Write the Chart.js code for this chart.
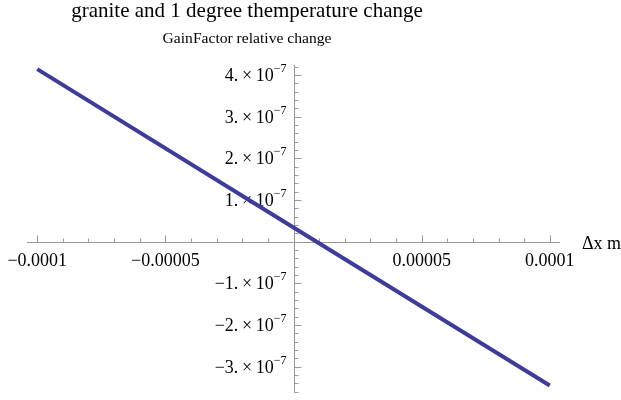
<!doctype html>
<html lang="en">
    <head>
        <meta charset="UTF-8" />
        <title>granite and 1 degree themperature change</title>
        <style>
            html, body { margin: 0; padding: 0; background: #fff; }
            .chartBox { width: 621px; height: 400px; }
        </style>
    </head>
    <body>
        <div class="chartBox">
            <canvas id="myChart" width="621" height="400"></canvas>
        </div>

        <script src="https://cdn.jsdelivr.net/npm/chart.js"></script>
        <script>
            // data
            const dx = [-0.0001, 0, 0.0001];
            const gain = [4.14e-7, 0.34e-7, -3.45e-7];
            const xTicks = [-0.0001, -0.00005, 0.00005, 0.0001];
            const xTickLabels = ["\u22120.0001", "\u22120.00005", "0.00005", "0.0001"];
            const yTicks = [4e-7, 3e-7, 2e-7, 1e-7, -1e-7, -2e-7, -3e-7];
            const yTickMantissa = ["4.", "3.", "2.", "1.", "\u22121.", "\u22122.", "\u22123."];

            const SERIF = "'Liberation Serif', 'Times New Roman', serif";

            // axes through the origin, mathematica style
            const crossAxes = {
                id: "crossAxes",
                beforeDatasetsDraw(chart) {
                    const { ctx, chartArea: { left, top, right, bottom }, scales: { x, y } } = chart;
                    const x0 = Math.round(x.getPixelForValue(0)) + 0.5;
                    const y0 = Math.round(y.getPixelForValue(0)) + 0.5;
                    ctx.save();
                    ctx.strokeStyle = "#999";
                    ctx.lineWidth = 1;
                    ctx.beginPath();
                    ctx.moveTo(left, y0); ctx.lineTo(right, y0);
                    ctx.moveTo(x0, top); ctx.lineTo(x0, bottom);
                    // x ticks every 1e-5, major every 5e-5
                    for (let i = -10; i <= 10; i++) {
                        if (i === 0) continue;
                        const px = Math.round(x.getPixelForValue(i * 1e-5)) + 0.5;
                        const len = i % 5 === 0 ? 7 : 4;
                        ctx.moveTo(px, y0); ctx.lineTo(px, y0 - len);
                    }
                    // y ticks every 0.2e-7, major every 1e-7
                    for (let i = -18; i <= 21; i++) {
                        if (i === 0) continue;
                        const py = Math.round(y.getPixelForValue(i * 2e-8)) + 0.5;
                        const len = i % 5 === 0 ? 7 : 4;
                        ctx.moveTo(x0, py); ctx.lineTo(x0 + len, py);
                    }
                    ctx.stroke();

                    ctx.fillStyle = "#000";
                    ctx.font = "18px " + SERIF;
                    ctx.textAlign = "center";
                    ctx.textBaseline = "alphabetic";
                    xTicks.forEach((v, i) => {
                        ctx.fillText(xTickLabels[i], x.getPixelForValue(v), y0 + 23);
                    });
                    ctx.textAlign = "left";
                    ctx.fillText("\u0394x m", 582, y0 + 6);

                    // y labels: mantissa × 10^-7
                    yTicks.forEach((v, i) => {
                        const py = y.getPixelForValue(v);
                        ctx.font = "12px " + SERIF;
                        const ew = ctx.measureText("\u22127").width;
                        ctx.font = "18px " + SERIF;
                        const main = yTickMantissa[i] + "\u2009\u00d7\u200910";
                        const mw = ctx.measureText(main).width;
                        const xr = x0 - 8;
                        ctx.fillText(main, xr - ew - mw, py + 6);
                        ctx.font = "12px " + SERIF;
                        ctx.fillText("\u22127", xr - ew, py - 3);
                    });

                    // title and axis label
                    ctx.textAlign = "center";
                    ctx.font = "21px " + SERIF;
                    ctx.fillText("granite and 1 degree themperature change", 247, 17);
                    ctx.font = "15.6px " + SERIF;
                    ctx.fillText("GainFactor relative change", 247, 43);
                    ctx.restore();
                },
            };

            const data = {
                datasets: [
                    {
                        data: dx.map((v, i) => ({ x: v, y: gain[i] })),
                        borderColor: "#3d3d99",
                        backgroundColor: "#3d3d99",
                        borderWidth: 4,
                        pointRadius: 0,
                        tension: 0,
                    },
                ],
            };

            const config = {
                type: "line",
                data: data,
                options: {
                    responsive: false,
                    animation: false,
                    layout: { padding: { left: 27, right: 61, top: 65, bottom: 7 } },
                    scales: {
                        x: { type: "linear", min: -1.04e-4, max: 1.04e-4, display: false },
                        y: { type: "linear", min: -3.63e-7, max: 4.24e-7, display: false },
                    },
                    plugins: {
                        legend: { display: false },
                        tooltip: { enabled: false },
                    },
                },
                plugins: [crossAxes],
            };

            var ctx = document.getElementById("myChart").getContext("2d");
            new Chart(ctx, config);
        </script>
    </body>
</html>
